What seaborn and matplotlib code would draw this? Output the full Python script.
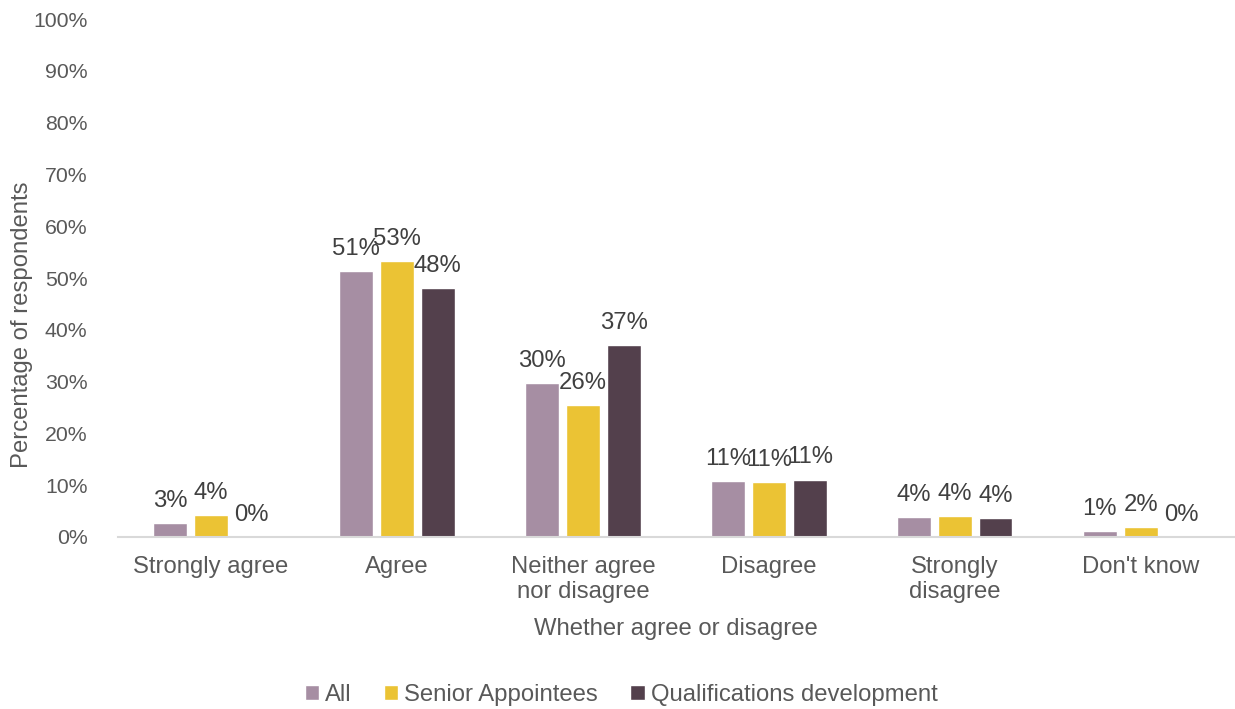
import numpy as np
import pandas as pd
import matplotlib
matplotlib.use("Agg")
import matplotlib.pyplot as plt
import seaborn as sns
from matplotlib.ticker import FuncFormatter

# Survey responses: share of respondents (%) per answer, by group
categories = ["Strongly agree", "Agree", "Neither agree\nnor disagree",
              "Disagree", "Strongly\ndisagree", "Don't know"]
groups = ["All", "Senior Appointees", "Qualifications development"]
all_vals = [2.7, 51.4, 29.7, 10.8, 3.9, 1.2]
senior_vals = [4.2, 53.2, 25.5, 10.6, 4.1, 2.0]
qual_vals = [0.0, 48.1, 37.0, 11.1, 3.6, 0.0]
y_ticks = [0, 10, 20, 30, 40, 50, 60, 70, 80, 90, 100]

colors = ["#A68EA3", "#EBC334", "#53404C"]
text_gray = "#595959"

df = pd.DataFrame({
    "answer": categories * 3,
    "group": [g for g in groups for _ in categories],
    "value": all_vals + senior_vals + qual_vals,
})

sns.set_theme(style="white")
plt.rcParams["font.family"] = ["Liberation Sans", "DejaVu Sans"]

fig = plt.figure(figsize=(12.35, 7.09), dpi=100)
ax = fig.add_axes([0.0955, 0.2426, 0.9035, 0.7304])

sns.barplot(data=df, x="answer", y="value", hue="group", order=categories,
            hue_order=groups, palette=colors, saturation=1, width=0.66, gap=0.18,
            edgecolor="white", linewidth=1, errorbar=None, ax=ax)

# value labels above each bar
for container in ax.containers:
    for bar in container:
        h = bar.get_height()
        ax.annotate(f"{h:.0f}%", (bar.get_x() + bar.get_width() / 2, h),
                    xytext=(0, 8), textcoords="offset points",
                    ha="center", va="bottom", fontsize=17.2, color="#404040")

ax.set_ylim(0, 100)
ax.set_xlim(-0.5, len(categories) - 0.5)
ax.set_yticks(y_ticks)
ax.yaxis.set_major_formatter(FuncFormatter(lambda v, _: f"{v:.0f}%"))
ax.tick_params(axis="y", length=0, pad=22, labelsize=15.3, labelcolor=text_gray)
ax.tick_params(axis="x", length=0, pad=14, labelsize=17.2, labelcolor=text_gray)
for lbl in ax.get_xticklabels():
    lbl.set_linespacing(1.15)

ax.set_xlabel("Whether agree or disagree", fontsize=17.2, color=text_gray, labelpad=11)
ax.set_ylabel("Percentage of respondents", fontsize=17.2, color=text_gray)
ax.yaxis.set_label_coords(-0.076, 0.41)

for side in ["top", "right", "left"]:
    ax.spines[side].set_visible(False)
ax.spines["bottom"].set_color("#D9D9D9")
ax.spines["bottom"].set_linewidth(1.5)

handles, labels = ax.get_legend_handles_labels()
ax.get_legend().remove()
leg = fig.legend(handles, labels, loc="center", bbox_to_anchor=(0.503, 0.02),
                 ncol=3, frameon=False, fontsize=17.2, handlelength=0.6,
                 handleheight=0.6, handletextpad=0.25, columnspacing=1.35)
for t in leg.get_texts():
    t.set_color(text_gray)

fig.savefig("out.png", dpi=100)
